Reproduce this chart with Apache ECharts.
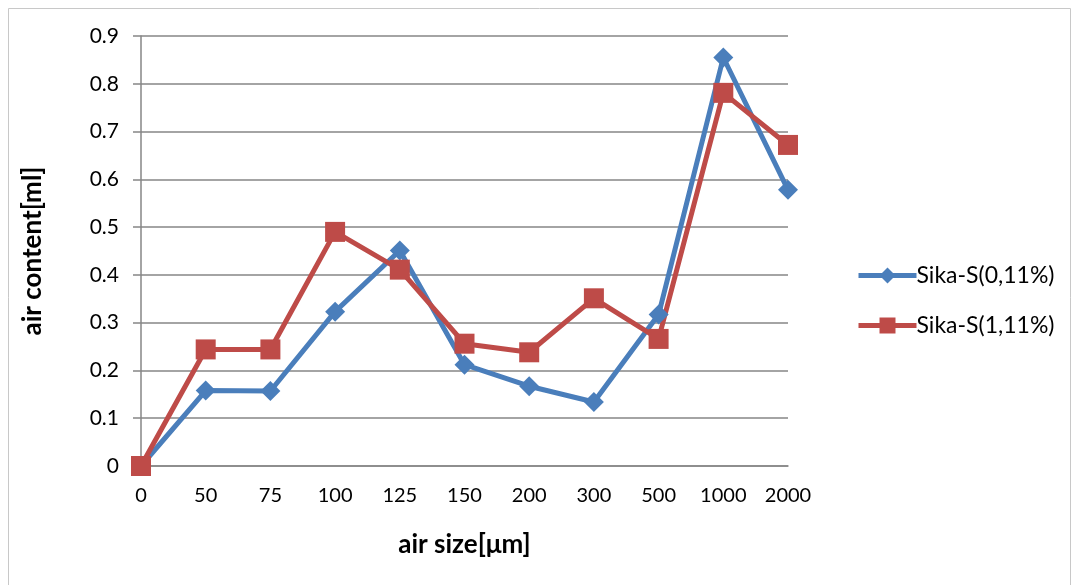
<!DOCTYPE html>
<html>
<head>
<meta charset="utf-8">
<script src="https://cdn.jsdelivr.net/npm/echarts@6/dist/echarts.min.js"></script>
<style>
  html, body { margin: 0; padding: 0; background: #fff; }
  #main { width: 1079px; height: 585px; }
</style>
</head>
<body>
<div id="main"></div>
<script>
// 数据
var sizes = ['0', '50', '75', '100', '125', '150', '200', '300', '500', '1000', '2000'];
var sika011 = [0, 0.158, 0.157, 0.323, 0.451, 0.212, 0.167, 0.134, 0.317, 0.855, 0.578];
var sika111 = [0, 0.244, 0.244, 0.49, 0.411, 0.256, 0.238, 0.351, 0.266, 0.781, 0.672];

var myChart = echarts.init(document.getElementById('main'));
var font = 'Lato, "Open Sans", sans-serif';

option = {
    backgroundColor: '#fff',
    animation: false,
    textStyle: { fontFamily: font },
    graphic: [{
        type: 'rect',
        shape: { x: 8.5, y: 8.5, width: 1062, height: 590 },
        style: { fill: 'none', stroke: '#c8c8c8', lineWidth: 1 }
    }],
    grid: { left: 141, right: 291, top: 36, bottom: 119 },
    legend: {
        orient: 'vertical',
        left: 851,
        top: 259,
        itemWidth: 58,
        itemHeight: 20,
        itemGap: 27,
        lineStyle: { width: 5 },
        textStyle: { fontFamily: font, fontSize: 23, color: '#000', padding: [0, 0, 0, -5] },
        data: ['Sika-S(0,11%)', 'Sika-S(1,11%)']
    },
    xAxis: {
        type: 'category',
        boundaryGap: false,
        data: sizes,
        name: 'air size[μm]',
        nameLocation: 'middle',
        nameGap: 66,
        nameTextStyle: { fontFamily: font, fontSize: 26, fontWeight: 'bold', color: '#000' },
        axisLine: { lineStyle: { color: '#868686', width: 1.5 } },
        axisTick: { show: false },
        axisLabel: { fontFamily: font, fontSize: 20, color: '#000', margin: 20 }
    },
    yAxis: {
        type: 'value',
        min: 0,
        max: 0.9,
        interval: 0.1,
        name: 'air content[ml]',
        nameLocation: 'middle',
        nameGap: 95,
        nameTextStyle: { fontFamily: font, fontSize: 26, fontWeight: 'bold', color: '#000' },
        axisLine: { show: true, lineStyle: { color: '#868686', width: 1.5 } },
        axisTick: { show: true, length: 8, lineStyle: { color: '#868686', width: 1.5 } },
        axisLabel: {
            fontFamily: font, fontSize: 21, color: '#000', margin: 22,
            formatter: function (v) { return v === 0 ? '0' : v.toFixed(1); }
        },
        splitLine: { lineStyle: { color: '#868686', width: 1.5 } }
    },
    series: [
        {
            name: 'Sika-S(0,11%)',
            type: 'line',
            data: sika011,
            symbol: 'diamond',
            symbolSize: 20,
            color: '#4a7ebb',
            lineStyle: { width: 5, color: '#4a7ebb' },
            itemStyle: { color: '#4a7ebb' }
        },
        {
            name: 'Sika-S(1,11%)',
            type: 'line',
            data: sika111,
            symbol: 'rect',
            symbolSize: 20,
            color: '#be4b48',
            lineStyle: { width: 5, color: '#be4b48' },
            itemStyle: { color: '#be4b48' }
        }
    ]
};
myChart.setOption(option);
</script>
</body>
</html>
